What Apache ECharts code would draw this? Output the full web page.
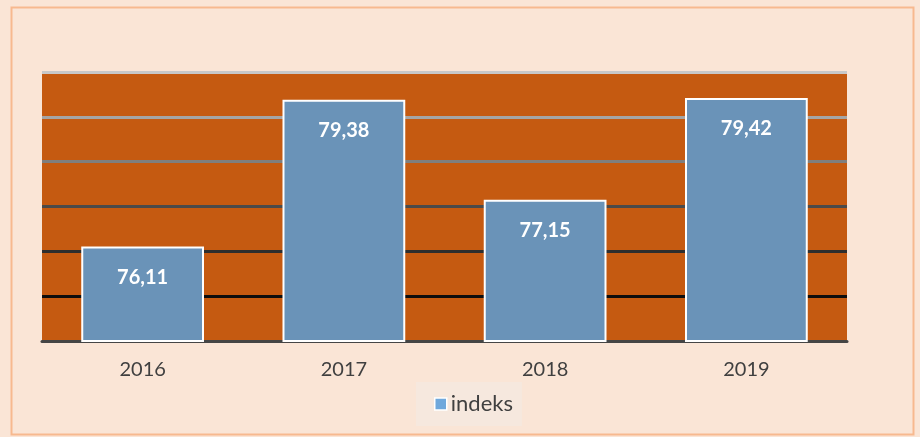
<!DOCTYPE html>
<html>
<head>
<meta charset="utf-8">
<script src="https://cdn.jsdelivr.net/npm/echarts@6/dist/echarts.min.js"></script>
<style>
  html, body { margin: 0; padding: 0; background: #fae5d6; }
  #chart { width: 920px; height: 437px; }
</style>
</head>
<body>
<div id="chart"></div>
<script>
  // data
  var years = ['2016', '2017', '2018', '2019'];
  var indeks = [76.11, 79.38, 77.15, 79.42];
  var yTicks = [74, 75, 76, 77, 78, 79, 80];

  // gridline colours, bottom (74) to top (80)
  var gridColors = ['#404040', '#0d0d0d', '#2e2e2e', '#4a4a4a', '#7f7f7f', '#a5a5a5', '#c8c8c8'];

  var chart = echarts.init(document.getElementById('chart'));
  var option = {
    backgroundColor: '#fae5d6',
    textStyle: { fontFamily: 'Lato' },
    graphic: [{
      type: 'rect',
      left: 9, top: 5,
      shape: { width: 902, height: 427 },
      style: { fill: 'none', stroke: '#f7b98f', lineWidth: 2 },
      z: -1
    }],
    grid: {
      left: 42, right: 73, top: 72, bottom: 96,
      show: true,
      backgroundColor: '#c55a11',
      borderWidth: 0
    },
    legend: {
      top: 382,
      left: 416,
      icon: 'rect',
      itemWidth: 12,
      itemHeight: 12,
      itemGap: 5,
      backgroundColor: '#f6e8de',
      padding: [11, 9, 11, 18],
      textStyle: { fontSize: 22, color: '#404040', fontFamily: 'Lato', padding: [0, 0, 0, -1] },
      itemStyle: { color: '#6fa8dc', borderColor: '#ffffff', borderWidth: 1.5 },
      data: ['indeks']
    },
    xAxis: {
      type: 'category',
      data: years,
      axisLine: { show: true, lineStyle: { color: '#454545', width: 3 } },
      axisTick: { show: false },
      axisLabel: { fontSize: 20, color: '#404040', margin: 19 }
    },
    yAxis: {
      type: 'value',
      min: yTicks[0],
      max: yTicks[yTicks.length - 1],
      interval: 1,
      axisLabel: { show: false },
      axisLine: { show: false },
      axisTick: { show: false },
      splitLine: { show: true, lineStyle: { color: gridColors, width: 3 } }
    },
    series: [{
      name: 'indeks',
      type: 'bar',
      data: indeks,
      barCategoryGap: '39%',
      itemStyle: { color: '#6a93b8', borderColor: '#ffffff', borderWidth: 2 },
      label: {
        show: true,
        position: 'insideTop',
        distance: 21,
        color: '#ffffff',
        fontWeight: 'bold',
        fontSize: 20,
        formatter: function (p) { return p.value.toFixed(2).replace('.', ','); }
      }
    }]
  };
  chart.setOption(option);
</script>
</body>
</html>
